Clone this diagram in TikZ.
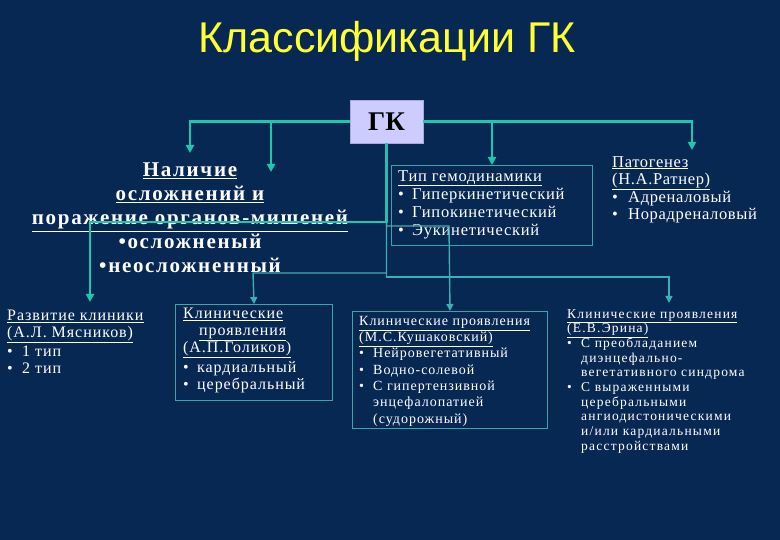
\documentclass[tikz,border=0pt]{standalone}
\usepackage{fontspec}
\setmainfont{Liberation Serif}
\newfontfamily\titlefont{Liberation Sans}
\usetikzlibrary{arrows.meta}
\definecolor{bg}{RGB}{8,40,84}
\definecolor{conn}{RGB}{30,200,175}
\definecolor{connthin}{RGB}{60,175,180}
\definecolor{frame}{RGB}{60,165,170}
\definecolor{gkfill}{RGB}{204,204,255}
\definecolor{gkborder}{RGB}{170,170,215}
\definecolor{titleyellow}{RGB}{255,255,51}
\newcommand{\bl}[1][14pt]{\makebox[#1][l]{\textbullet}}
\newcommand{\ind}[1][14pt]{\hspace*{#1}}
\newcommand{\lsp}[1]{\addfontfeature{LetterSpace=#1}}
\begin{document}
\begin{tikzpicture}[x=1pt,y=-1pt,
  txt/.style={text=white, inner sep=0pt, anchor=north west, align=left},
  mainlink/.style={draw=conn, line width=2.4pt, -{Triangle[width=8pt,length=8pt]}},
  sublink/.style={draw=connthin, line width=1.4pt, -{Triangle[width=7pt,length=7pt]}},
  framebox/.style={draw=frame, line width=1pt, inner sep=0pt, anchor=north west}]

\fill[bg] (0,0) rectangle (780,540);
\useasboundingbox (0,0) rectangle (780,540);

\node[font=\titlefont\fontsize{43}{43}\selectfont, text=titleyellow, anchor=base] (title) at (387,53) {Классификации ГК};

\node[draw=gkborder, line width=0.8pt, fill=gkfill, minimum width=73pt, minimum height=43pt, inner sep=0pt,
      font=\bfseries\fontsize{27}{27}\selectfont] (gk) at (386.5,121.5) {ГК};

% boxes
\node[framebox, minimum width=201pt, minimum height=80pt] (hemo) at (391,165) {};
\node[framebox, minimum width=157pt, minimum height=96pt] (gol) at (175,304) {};
\node[framebox, minimum width=195pt, minimum height=117pt] (kush) at (352,311) {};

% texts
\node[text=white, inner sep=0pt, anchor=north, align=center,
      font=\bfseries\fontsize{21}{24}\selectfont\lsp{8}] (compl) at (190,163)
  {\underline{Наличие}\\ \underline{осложнений и}\\ \underline{поражение органов-мишеней}\\ \textbullet осложненый\\ \textbullet неосложненный};

\node[txt, font=\fontsize{16.5}{18.3}\selectfont\lsp{4.6}] (hemotxt) at (398,170)
  {\underline{Тип гемодинамики}\\ \bl Гиперкинетический\\ \bl Гипокинетический\\ \bl Эукинетический};

\node[txt, font=\fontsize{16.5}{17.5}\selectfont\lsp{4}] (pat) at (612,156)
  {\underline{Патогенез}\\ \underline{(Н.А.Ратнер)}\\ \bl[16pt]Адреналовый\\ \bl[16pt]Норадреналовый};

\node[txt, font=\fontsize{16}{17}\selectfont\lsp{6}] (mias) at (7,310)
  {\underline{Развитие клиники}\\ \underline{(А.Л. Мясников)}\\[2pt] \bl[15pt]1 тип\\ \bl[15pt]2 тип};

\node[txt, font=\fontsize{16}{17}\selectfont\lsp{6}] (goltxt) at (183,308)
  {\underline{Клинические}\\ \ind[16pt]\underline{проявления}\\ \underline{(А.П.Голиков)}\\[3pt] \bl кардиальный\\ \bl церебральный};

\node[txt, font=\fontsize{14}{16.3}\selectfont\lsp{7}] (kushtxt) at (359,316)
  {\underline{Клинические проявления}\\ \underline{(М.С.Кушаковский)}\\ \bl Нейровегетативный\\ \bl Водно-солевой\\ \bl С гипертензивной\\ \ind энцефалопатией\\ \ind(судорожный)};

\node[txt, font=\fontsize{13.5}{14.7}\selectfont\lsp{9}] (erina) at (567,309)
  {\underline{Клинические проявления}\\ \underline{(Е.В.Эрина)}\\ \bl С преобладанием\\ \ind диэнцефально-\\ \ind вегетативного синдрома\\ \bl С выраженными\\ \ind церебральными\\ \ind ангиодистоническими\\ \ind и/или кардиальными\\ \ind расстройствами};

% connector points
\coordinate (tipA) at (190,153);
\coordinate (jB) at (271,121);
\coordinate (tipB) at (271,172);
\coordinate (tipP) at (692,150);
\coordinate (m1) at (90,222);
\coordinate (tipM) at (90,302);
\coordinate (k1) at (449,226);
\coordinate (g1) at (253,273);
\coordinate (e1) at (669,277);
\coordinate (tipE) at (669,303);

% top connectors
\draw[mainlink] (gk.west) -| (tipA);
\draw[mainlink] (jB) -- (tipB);
\draw[mainlink] (gk.east) -| (tipP);
\draw[mainlink] (gk.east -| hemo.north) -- (hemo.north);

% bottom connectors
\draw[mainlink] (gk.south) |- (m1) -- (tipM);
\draw[sublink] (gk.south) |- (k1) -- (kush.north);
\draw[sublink] (gk.south) |- (g1) -- (gol.north);
\draw[sublink] (gk.south) |- (e1) -- (tipE);
\end{tikzpicture}
\end{document}
